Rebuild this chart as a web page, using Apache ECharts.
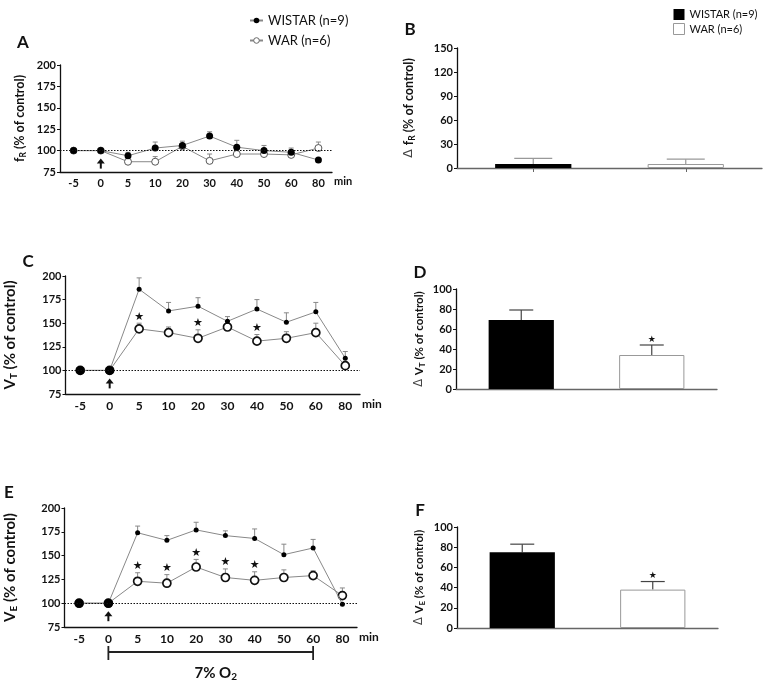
<!DOCTYPE html>
<html>
<head>
<meta charset="utf-8">
<script src="https://cdn.jsdelivr.net/npm/echarts@6/dist/echarts.min.js"></script>
<style>html,body{margin:0;padding:0;background:#fff;}#c{width:769px;height:684px;}</style>
</head>
<body>
<div id="c"></div>
<script>
// ---------- data ----------
const cats = ['-5', '0', '5', '10', '20', '30', '40', '50', '60', '80'];
const groups = ['WISTAR (n=9)', 'WAR (n=6)'];

// Panel A: fR (% of control)
const aWistar    = [100, 100, 94, 103, 106, 117, 104, 100, 98, 89];
const aWistarSem = [0, 0, 4, 7, 5, 5, 8, 6, 5, 0];
const aWar       = [100, 100, 87, 87, 105, 88, 96, 96, 95, 103];
const aWarSem    = [0, 0, 0, 6, 0, 8, 0, 0, 0, 7];

// Panel C: VT (% of control)
const cWistar    = [100, 100, 186, 163, 168, 152, 165, 151, 162, 113];
const cWistarSem = [0, 0, 12, 9, 9, 5, 10, 10, 10, 7];
const cWar       = [100, 100, 144, 140, 134, 146, 131, 134, 140, 105];
const cWarSem    = [0, 0, 6, 6, 9, 0, 7, 7, 10, 0];
const cStars     = ['5', '20', '40'];

// Panel E: VE (% of control)
const eWistar    = [100, 100, 174, 166, 177, 171, 168, 151, 158, 99];
const eWistarSem = [0, 0, 7, 5, 8, 5, 10, 11, 9, 0];
const eWar       = [100, 100, 123, 121, 138, 127, 124, 127, 129, 108];
const eWarSem    = [0, 0, 9, 9, 8, 9, 9, 8, 5, 8];
const eStars     = ['5', '10', '20', '30', '40'];

// Bar panels (delta, % of control)
const bMean = [5, 5],   bSem = [7, 6];
const dMean = [69, 34], dSem = [10, 10];
const fMean = [75, 38], fSem = [8, 8];
const dStars = ['WAR (n=6)'];
const fStars = ['WAR (n=6)'];

const arrowAt = '0';
const o2Span = ['0', '60'];

// ---------- chart ----------
const FONT = 'Lato';
const chart = echarts.init(document.getElementById('c'), null, {renderer: 'canvas'});

const grids = [
  {left: 60, top: 65, width: 272, height: 107},   // A
  {left: 457, top: 48, width: 305, height: 120},  // B
  {left: 60, top: 276, width: 300, height: 118},  // C
  {left: 456, top: 289, width: 261, height: 100}, // D
  {left: 59, top: 508, width: 298, height: 119},  // E
  {left: 457, top: 527, width: 261, height: 101}  // F
];

function lineX(gi, fs) {
  return {
    type: 'category', gridIndex: gi, data: cats, boundaryGap: true,
    axisLine: {lineStyle: {color: '#111', width: 1.3}},
    axisTick: {alignWithLabel: true, length: 3, lineStyle: {color: '#111'}},
    axisLabel: {fontFamily: FONT, fontWeight: 'bold', fontSize: fs, color: '#111', margin: 6},
    name: 'min', nameLocation: 'end', nameGap: 2,
    nameTextStyle: {fontFamily: FONT, fontWeight: 'bold', fontSize: fs, color: '#111', verticalAlign: 'top', padding: [4, 0, 0, 0]}
  };
}
function barX(gi, tick) {
  return {
    type: 'category', gridIndex: gi, data: groups,
    axisLine: {lineStyle: {color: '#666', width: 1.3}},
    axisTick: {show: tick, alignWithLabel: true, length: 4, lineStyle: {color: '#666'}},
    axisLabel: {show: false}
  };
}
function subName(pre, main, sub, size, subSize) {
  return {
    name: (pre ? '{d|' + pre + '}' : '') + '{b|' + main + '}{s|' + sub + '}{b| (% of control)}',
    rich: {
      d: {fontFamily: 'DejaVu Sans', fontSize: size, color: '#444', fontWeight: 'normal'},
      b: {fontFamily: FONT, fontSize: size, fontWeight: 'bold', color: '#111', lineHeight: size},
      s: {fontFamily: FONT, fontSize: subSize, fontWeight: 'bold', color: '#111', lineHeight: subSize, padding: [Math.round(size * 0.55), 0, 0, 0]}
    }
  };
}
function valY(gi, min, max, interval, nm, gap) {
  return {
    type: 'value', gridIndex: gi, min: min, max: max, interval: interval,
    splitLine: {show: false},
    axisLine: {show: true, lineStyle: {color: '#111', width: 1.3}},
    axisTick: {show: true, length: 3, lineStyle: {color: '#111'}},
    axisLabel: {fontFamily: FONT, fontWeight: 'bold', fontSize: 11, color: '#111', margin: 4},
    name: nm.name, nameLocation: 'middle', nameRotate: 90, nameGap: gap,
    nameTextStyle: {rich: nm.rich}
  };
}

const xAxis = [lineX(0, 11), barX(1, true), lineX(2, 12), barX(3, false), lineX(4, 12), barX(5, false)];
const yAxis = [
  valY(0, 75, 200, 25, subName('', 'f', 'R', 12.5, 8.5), 34),
  valY(1, 0, 150, 30, subName('\u0394 ', 'f', 'R', 12.5, 8.5), 42),
  valY(2, 75, 200, 25, subName('', 'V', 'T', 15, 10), 48),
  valY(3, 0, 100, 20, subName('\u0394 ', 'V', 'T', 11.5, 8), 31),
  valY(4, 75, 200, 25, subName('', 'V', 'E', 15, 10), 47),
  valY(5, 0, 100, 20, subName('\u0394 ', 'V', 'E', 11.5, 8), 32)
];

const series = [];

function errSeries(ax, mean, sem, capHalf, color, width) {
  return {
    type: 'custom', xAxisIndex: ax, yAxisIndex: ax, clip: false, z: 1, silent: true,
    data: mean.map((m, i) => [i, m, sem[i]]),
    renderItem: function (params, api) {
      const e = api.value(2);
      if (!e) return null;
      const p0 = api.coord([api.value(0), api.value(1)]);
      const p1 = api.coord([api.value(0), api.value(1) + e]);
      return {type: 'group', children: [
        {type: 'line', shape: {x1: p0[0], y1: p0[1], x2: p1[0], y2: p1[1]}, style: {stroke: color, lineWidth: width}},
        {type: 'line', shape: {x1: p1[0] - capHalf, y1: p1[1], x2: p1[0] + capHalf, y2: p1[1]}, style: {stroke: color, lineWidth: width}}
      ]};
    }
  };
}
function starSeries(ax, list, keys, mean, sem, size, gap) {
  return {
    type: 'custom', xAxisIndex: ax, yAxisIndex: ax, clip: false, z: 5, silent: true,
    data: list.map(c => { const i = keys.indexOf(c); return [i, mean[i] + sem[i]]; }),
    renderItem: function (params, api) {
      const p = api.coord([api.value(0), api.value(1)]);
      return {type: 'text', x: p[0], y: p[1] - gap,
        style: {text: '\u2605', fontFamily: 'DejaVu Sans', fontSize: size, fill: '#111', align: 'center', verticalAlign: 'bottom'}};
    }
  };
}
function arrowSeries(ax) {
  return {
    type: 'custom', xAxisIndex: ax, yAxisIndex: ax, clip: false, z: 5, silent: true,
    data: [[cats.indexOf(arrowAt), 100]],
    renderItem: function (params, api) {
      const p = api.coord([api.value(0), api.value(1)]);
      const x = p[0], y = p[1];
      return {type: 'group', children: [
        {type: 'line', shape: {x1: x, y1: y + 11, x2: x, y2: y + 18}, style: {stroke: '#111', lineWidth: 2}},
        {type: 'polygon', shape: {points: [[x, y + 8], [x - 4, y + 13], [x + 4, y + 13]]}, style: {fill: '#111'}}
      ]};
    }
  };
}
function linePair(ax, w, ws, r, rs, heavy) {
  const wisSize = heavy ? function (v, p) { return p.dataIndex < 2 ? 9 : 5; } : 7;
  series.push(errSeries(ax, w, ws, 2.5, '#888', 1));
  series.push(errSeries(ax, r, rs, 2.5, '#888', 1));
  series.push({
    name: groups[1], type: 'line', xAxisIndex: ax, yAxisIndex: ax, data: r, z: 3,
    symbol: 'circle', symbolSize: heavy ? 8 : 7,
    lineStyle: {color: '#888', width: 1},
    itemStyle: {color: '#fff', borderColor: heavy ? '#111' : '#555', borderWidth: heavy ? 1.7 : 1},
    emphasis: {disabled: true}, animation: false
  });
  series.push({
    name: groups[0], type: 'line', xAxisIndex: ax, yAxisIndex: ax, data: w, z: 4,
    symbol: 'circle', symbolSize: wisSize,
    lineStyle: {color: '#888', width: 1},
    itemStyle: {color: '#000', borderColor: '#000', borderWidth: 0},
    emphasis: {disabled: true}, animation: false,
    markLine: {silent: true, symbol: ['none', 'none'], label: {show: false},
      lineStyle: {type: [1.5, 1.5], color: '#111', width: 1.2},
      data: [{yAxis: 100}], animation: false}
  });
  series.push(arrowSeries(ax));
}
function barPanel(ax, mean, sem, capHalf, errColor, stars) {
  series.push({
    type: 'bar', xAxisIndex: ax, yAxisIndex: ax, barWidth: '50%', z: 2,
    data: mean.map((m, i) => ({value: m, itemStyle: i === 0 ? {color: '#000'} : {color: '#fff', borderColor: '#999', borderWidth: 1}})),
    emphasis: {disabled: true}, animation: false
  });
  series.push(errSeries(ax, mean, sem, capHalf, errColor, 1.2));
  if (stars) series.push(starSeries(ax, stars, groups, mean, sem, 9, 1));
}

linePair(0, aWistar, aWistarSem, aWar, aWarSem, false);
barPanel(1, bMean, bSem, 19, '#999', null);
linePair(2, cWistar, cWistarSem, cWar, cWarSem, true);
series.push(starSeries(2, cStars, cats, cWar, cWarSem, 11, 1));
barPanel(3, dMean, dSem, 12, '#444', dStars);
linePair(4, eWistar, eWistarSem, eWar, eWarSem, true);
series.push(starSeries(4, eStars, cats, eWar, eWarSem, 11, 1));
barPanel(5, fMean, fSem, 12, '#444', fStars);

// 7% O2 bracket below panel E
series.push({
  type: 'custom', xAxisIndex: 4, yAxisIndex: 4, clip: false, silent: true, z: 5,
  data: [[cats.indexOf(o2Span[0]), 75, cats.indexOf(o2Span[1])]],
  renderItem: function (params, api) {
    const p0 = api.coord([api.value(0), api.value(1)]);
    const p1 = api.coord([api.value(2), api.value(1)]);
    const y = p0[1] + 25;
    return {type: 'group', children: [
      {type: 'line', shape: {x1: p0[0], y1: y, x2: p1[0], y2: y}, style: {stroke: '#222', lineWidth: 1.8}},
      {type: 'line', shape: {x1: p0[0], y1: y - 6, x2: p0[0], y2: y + 8}, style: {stroke: '#222', lineWidth: 1.8}},
      {type: 'line', shape: {x1: p1[0], y1: y - 6, x2: p1[0], y2: y + 8}, style: {stroke: '#222', lineWidth: 1.8}},
      {type: 'text', x: (p0[0] + p1[0]) / 2 + 5, y: y + 21, style: {
        text: '{b|7% O}{s|2}', align: 'center', verticalAlign: 'middle',
        rich: {b: {fontFamily: FONT, fontWeight: 'bold', fontSize: 15, fill: '#111', lineHeight: 15},
               s: {fontFamily: FONT, fontWeight: 'bold', fontSize: 10, fill: '#111', lineHeight: 10, padding: [8, 0, 0, 0]}}}}
    ]};
  }
});

const letterStyle = {fontFamily: FONT, fontWeight: 'bold', fontSize: 17, fill: '#111'};
const letters = [['A', 23, 43], ['B', 410, 30], ['C', 28, 262], ['D', 420, 273], ['E', 9, 493], ['F', 420, 511]];

chart.setOption({
  animation: false,
  textStyle: {fontFamily: FONT},
  grid: grids,
  xAxis: xAxis,
  yAxis: yAxis,
  legend: [
    {left: 244, top: 9, orient: 'vertical', itemWidth: 13, itemHeight: 7, itemGap: 7, selectedMode: false,
     data: [
       {name: groups[0], itemStyle: {color: '#000', borderWidth: 0}},
       {name: groups[1], itemStyle: {color: '#fff', borderColor: '#666', borderWidth: 1}}
     ],
     textStyle: {fontFamily: FONT, fontSize: 13, color: '#111'}},
    {left: 668, top: 4, orient: 'vertical', itemWidth: 11, itemHeight: 11, itemGap: 3, selectedMode: false,
     data: [
       {name: groups[0], icon: 'rect', itemStyle: {color: '#000', borderWidth: 0}},
       {name: groups[1], icon: 'rect', itemStyle: {color: '#fff', borderColor: '#999', borderWidth: 1}}
     ],
     textStyle: {fontFamily: FONT, fontSize: 11, color: '#111'}}
  ],
  graphic: letters.map(l => ({type: 'text', x: l[1], y: l[2], style: Object.assign({text: l[0], align: 'center', verticalAlign: 'middle'}, letterStyle)})),
  series: series
});
</script>
</body>
</html>
